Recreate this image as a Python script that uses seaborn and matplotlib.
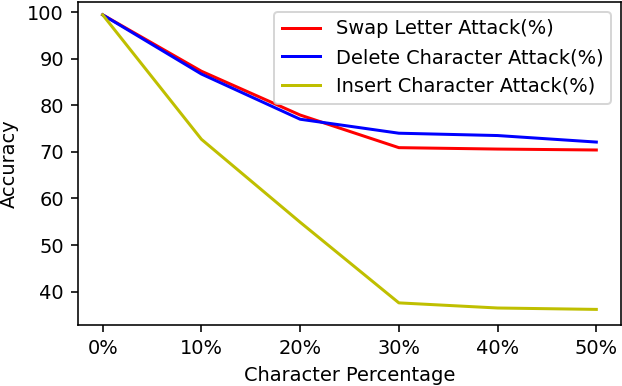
import matplotlib
matplotlib.use("Agg")
from matplotlib import pyplot as plt
import pandas as pd
import seaborn as sns

percentages = [0, 10, 20, 30, 40, 50]
tick_labels = ["0%", "10%", "20%", "30%", "40%", "50%"]
swap_letter = [99.4, 87.3, 77.9, 70.9, 70.6, 70.4]
delete_char = [99.4, 86.7, 77.0, 74.0, 73.5, 72.1]
insert_char = [99.4, 72.7, 54.9, 37.6, 36.5, 36.2]

series = [
    ("Swap Letter Attack(%)", "r", swap_letter),
    ("Delete Character Attack(%)", "b", delete_char),
    ("Insert Character Attack(%)", "y", insert_char),
]

plt.rcParams["font.size"] = 9.7

fig, ax = plt.subplots(figsize=(622 / 144, 386 / 144), dpi=144)

for label, color, values in series:
    df = pd.DataFrame({"x": percentages, "y": values})
    sns.lineplot(data=df, x="x", y="y", color=color, label=label, ax=ax)

ax.set_xticks(percentages)
ax.set_xticklabels(tick_labels)
ax.set_yticks([40, 50, 60, 70, 80, 90, 100])
ax.set_ylim(32.85, 102.15)
ax.set_xlabel("Character Percentage")
ax.set_ylabel("Accuracy")
ax.legend(loc="upper right")

fig.subplots_adjust(left=0.1254, right=0.9984, top=0.9948, bottom=0.158)
fig.savefig("out.png", dpi=144)
